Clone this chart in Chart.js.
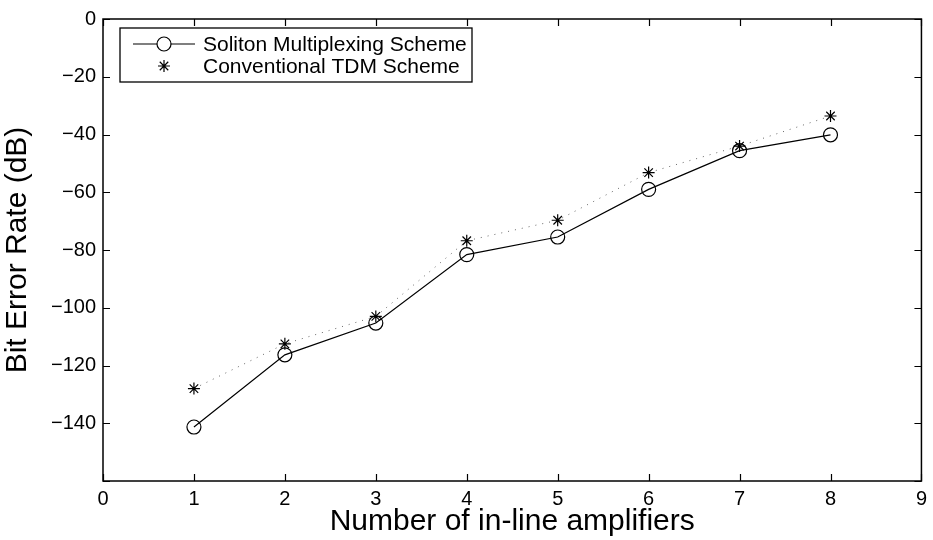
<!DOCTYPE html>
<html>
<head>
<meta charset="utf-8">
<script src="https://cdn.jsdelivr.net/npm/chart.js@4.4.0/dist/chart.umd.min.js"></script>
<style>
  html, body { margin: 0; padding: 0; background: #fff; }
  #wrap { width: 933px; height: 540px; }
</style>
</head>
<body>
<div id="wrap"><canvas id="ber-chart" width="933" height="540"></canvas></div>
<script>
// number of in-line amplifiers
const amplifiers = [1, 2, 3, 4, 5, 6, 7, 8];
// bit error rate (dB) for each scheme
const solitonBER = [-141.3, -116.3, -105.3, -81.6, -75.5, -59.0, -45.6, -40.1];
const tdmBER = [-128.0, -112.5, -103.0, -76.8, -69.7, -53.2, -44.0, -33.6];

const xTicks = [0, 1, 2, 3, 4, 5, 6, 7, 8, 9];
const yTicks = [0, -20, -40, -60, -80, -100, -120, -140, -160];

const seriesNames = ['Soliton Multiplexing Scheme', 'Conventional TDM Scheme'];

const FONT = '"Liberation Sans", Arial, Helvetica, sans-serif';

function toPoints(xs, ys) {
    return xs.map((x, i) => ({ x: x, y: ys[i] }));
}

// box around the axes plus inward tick marks on all four sides
const frameAndTicks = {
    id: 'frameAndTicks',
    afterDraw(chart) {
        const ctx = chart.ctx;
        const a = chart.chartArea;
        const xs = chart.scales.x, ys = chart.scales.y;
        const len = 7;
        ctx.save();
        ctx.strokeStyle = '#000';
        ctx.lineWidth = 1.5;
        ctx.strokeRect(a.left, a.top, a.right - a.left, a.bottom - a.top);
        ctx.lineWidth = 1.2;
        ctx.beginPath();
        xTicks.forEach(v => {
            const px = Math.round(xs.getPixelForValue(v)) + 0.5;
            ctx.moveTo(px, a.bottom); ctx.lineTo(px, a.bottom - len);
            ctx.moveTo(px, a.top); ctx.lineTo(px, a.top + len);
        });
        yTicks.forEach(v => {
            const py = Math.round(ys.getPixelForValue(v)) + 0.5;
            ctx.moveTo(a.left, py); ctx.lineTo(a.left + len, py);
            ctx.moveTo(a.right, py); ctx.lineTo(a.right - len, py);
        });
        ctx.stroke();
        ctx.restore();
    }
};

// legend box in the upper left corner of the plot
const boxLegend = {
    id: 'boxLegend',
    afterDraw(chart) {
        const ctx = chart.ctx;
        const a = chart.chartArea;
        const left = a.left + 17, top = a.top + 9;
        const w = 352, h = 54;
        ctx.save();
        ctx.fillStyle = '#fff';
        ctx.fillRect(left, top, w, h);
        ctx.strokeStyle = '#000';
        ctx.lineWidth = 1.3;
        ctx.strokeRect(left, top, w, h);

        const rowY = [top + 16, top + 38];
        const sx = left + 13, ex = left + 75, mx = (sx + ex) / 2;
        chart.data.datasets.forEach((ds, i) => {
            const y = rowY[i];
            if (ds.showLine !== false && !ds.borderDash) {
                ctx.strokeStyle = ds.borderColor;
                ctx.lineWidth = ds.borderWidth;
                ctx.beginPath();
                ctx.moveTo(sx, y); ctx.lineTo(ex, y);
                ctx.stroke();
            }
            Chart.helpers.drawPoint(ctx, {
                pointStyle: ds.pointStyle,
                radius: ds.pointRadius,
                borderWidth: ds.pointBorderWidth || 1
            }, mx, y);
            ctx.fillStyle = '#000';
            ctx.font = '21px ' + FONT;
            ctx.textBaseline = 'middle';
            ctx.textAlign = 'left';
            ctx.fillText(seriesNames[i], left + 83, y + 1);
        });
        ctx.restore();
    }
};

const ctx = document.getElementById('ber-chart').getContext('2d');
new Chart(ctx, {
    type: 'scatter',
    data: {
        datasets: [{
            label: seriesNames[0],
            data: toPoints(amplifiers, solitonBER),
            showLine: true,
            borderColor: '#000',
            borderWidth: 1.2,
            pointStyle: 'circle',
            pointRadius: 7,
            pointBorderColor: '#000',
            pointBorderWidth: 1.2,
            pointBackgroundColor: 'rgba(0,0,0,0)'
        }, {
            label: seriesNames[1],
            data: toPoints(amplifiers, tdmBER),
            showLine: true,
            borderColor: '#666',
            borderWidth: 1,
            borderDash: [1, 6],
            pointStyle: 'star',
            pointRadius: 6,
            pointBorderColor: '#000',
            pointBorderWidth: 1.2,
            pointBackgroundColor: 'rgba(0,0,0,0)'
        }]
    },
    options: {
        responsive: false,
        animation: false,
        layout: { padding: { top: 15, right: 8, left: 0, bottom: 0 } },
        plugins: {
            legend: { display: false },
            tooltip: { enabled: false }
        },
        scales: {
            x: {
                type: 'linear',
                min: 0,
                max: 9,
                afterBuildTicks: s => { s.ticks = xTicks.map(v => ({ value: v })); },
                ticks: {
                    color: '#000',
                    font: { family: FONT, size: 20 },
                    padding: 6,
                    maxRotation: 0
                },
                grid: { display: false, drawTicks: false },
                border: { display: false },
                title: {
                    display: true,
                    text: 'Number of in-line amplifiers',
                    color: '#000',
                    font: { family: FONT, size: 30 },
                    padding: { top: -4, bottom: 0 }
                },
                afterFit: s => { s.height = 59; }
            },
            y: {
                type: 'linear',
                min: -160,
                max: 0,
                afterBuildTicks: s => { s.ticks = yTicks.map(v => ({ value: v })); },
                ticks: {
                    color: '#000',
                    font: { family: FONT, size: 20 },
                    padding: 7,
                    callback: v => (v === -160 ? '' : String(v).replace('-', '\u2212'))
                },
                grid: { display: false, drawTicks: false },
                border: { display: false },
                title: {
                    display: true,
                    text: 'Bit Error Rate (dB)',
                    color: '#000',
                    font: { family: FONT, size: 30 },
                    padding: { top: 0, bottom: 3 }
                },
                afterFit: s => { s.width = 103; }
            }
        }
    },
    plugins: [frameAndTicks, boxLegend]
});
</script>
</body>
</html>
